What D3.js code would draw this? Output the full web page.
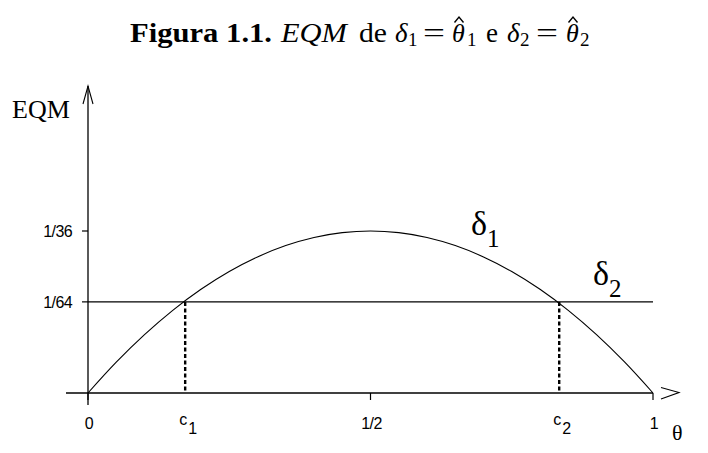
<!DOCTYPE html>
<html><head><meta charset="utf-8">
<script src="https://cdn.jsdelivr.net/npm/d3@7"></script>
<style>body{margin:0;background:#fff}svg{display:block}</style>
</head><body>
<script>
// Data
const thetas = [0,0.05,0.1,0.15,0.2,0.25,0.3,0.35,0.4,0.45,0.5,0.55,0.6,0.65,0.7,0.75,0.8,0.85,0.9,0.95,1];
const eqm1 = [0,0.00528,0.01,0.01417,0.01778,0.02083,0.02333,0.02528,0.02667,0.0275,0.02778,0.0275,0.02667,0.02528,0.02333,0.02083,0.01778,0.01417,0.01,0.00528,0];
const eqm2 = 1/64;
const yTicks = [1/64, 1/36];
const yTickLabels = ["1/64", "1/36"];
const xTicks = [0, 0.5, 1];
const xTickLabels = ["0", "1/2", "1"];
const cPoints = [0.172, 0.834];
const cLabels = ["1", "2"];

const W = 708, H = 453;
const svg = d3.select("body").append("svg").attr("width", W).attr("height", H);
const x = d3.scaleLinear().domain([0,1]).range([88,653]);
const y = d3.scaleLinear().domain([0,1/36]).range([393,231]);
const sans = "'Liberation Sans', Arial, sans-serif";
const serif = "'Liberation Serif', serif";

// Title, laid out piece by piece
const tg = svg.append("g").attr("font-family",serif).attr("fill","#000");
function piece(txt, px, py, opt){
  opt = opt || {};
  const t = tg.append("text").attr("x",px).attr("y",py).attr("font-size",opt.size||28).text(txt);
  if(opt.bold) t.attr("font-weight","bold");
  if(opt.italic) t.attr("font-style","italic");
  if(opt.len) t.attr("textLength",opt.len).attr("lengthAdjust","spacingAndGlyphs");
  return t;
}
const TB = 42;
piece("Figura 1.1.",130,TB,{bold:true,len:142});
piece("EQM",281,TB,{italic:true,len:66});
piece("de",359,TB,{len:28});
piece("δ",395,TB,{italic:true,size:27});
piece("1",408,TB+4,{size:19});
piece("=",423,TB,{len:22});
piece("θ",452,TB,{italic:true,size:26});
piece("1",467,TB+4,{size:19});
piece("e",486,TB,{len:12});
piece("δ",507,TB,{italic:true,size:27});
piece("2",520,TB+4,{size:19});
piece("=",536,TB,{len:22});
piece("θ",566,TB,{italic:true,size:26});
piece("2",580,TB+4,{size:19});
[459,573].forEach(hx=>tg.append("path").attr("d",`M${hx-4.5},22.5L${hx},17L${hx+4.5},22.5`)
  .attr("fill","none").attr("stroke","#000").attr("stroke-width",1.4));

const g = svg.append("g").attr("stroke","#000").attr("fill","none");
// axes
g.append("line").attr("x1",66).attr("x2",x(1)).attr("y1",y(0)).attr("y2",y(0)).attr("stroke-width",1.3);
g.append("path").attr("d",`M661,387.5L679,392.5L661,399`).attr("stroke-width",1.1);
g.append("line").attr("x1",x(0)).attr("x2",x(0)).attr("y1",405).attr("y2",86).attr("stroke-width",1.3);
g.append("path").attr("d",`M83,104L88,86L93,104`).attr("stroke-width",1.1);
// ticks
yTicks.forEach(v=>g.append("line").attr("x1",82).attr("x2",x(0)).attr("y1",y(v)).attr("y2",y(v)).attr("stroke-width",1.2));
xTicks.forEach(v=>g.append("line").attr("x1",x(v)).attr("x2",x(v)).attr("y1",y(0)).attr("y2",y(0)+7).attr("stroke-width",1.2));

// delta2 line
g.append("line").attr("x1",x(0)).attr("x2",x(1)).attr("y1",y(eqm2)).attr("y2",y(eqm2)).attr("stroke-width",1.2);
// delta1 curve
const line = d3.line().x((d,i)=>x(thetas[i])).y(d=>y(d)).curve(d3.curveCatmullRom);
g.append("path").attr("d",line(eqm1)).attr("stroke-width",1.1);
// dashed verticals
cPoints.forEach(c=>g.append("line").attr("x1",x(c)).attr("x2",x(c)).attr("y1",y(eqm2)).attr("y2",y(0))
  .attr("stroke-width",2.4).attr("stroke-dasharray","4,2.5"));

yTicks.forEach((v,i)=>svg.append("text").attr("x",72).attr("y",y(v)+6).attr("text-anchor","end")
  .attr("font-family",sans).attr("font-size",16).attr("letter-spacing",-0.6).text(yTickLabels[i]));
xTicks.forEach((v,i)=>svg.append("text").attr("x",x(v)+1).attr("y",429).attr("text-anchor","middle")
  .attr("font-family",sans).attr("font-size",16).attr("letter-spacing",-0.6).text(xTickLabels[i]));
cPoints.forEach((c,i)=>{
  const t = svg.append("text").attr("x",x(c)-6).attr("y",425)
   .attr("font-family",sans).attr("font-size",16);
  t.append("tspan").text("c");
  t.append("tspan").attr("dy",9).attr("dx",1).attr("font-size",16).text(cLabels[i]);
});
svg.append("text").attr("x",12).attr("y",118).attr("font-family",serif).attr("font-size",26).text("EQM");
svg.append("text").attr("x",672).attr("y",440).attr("font-family",serif).attr("font-size",22).text("θ");
function deltaLabel(px,py,sub){
  const t = svg.append("text").attr("x",px).attr("y",py).attr("font-family",serif).attr("font-size",34);
  t.append("tspan").text("δ");
  t.append("tspan").attr("font-size",25).attr("dy",12).text(sub);
}
deltaLabel(471,235,"1");
deltaLabel(593,285,"2");
</script>
</body></html>
